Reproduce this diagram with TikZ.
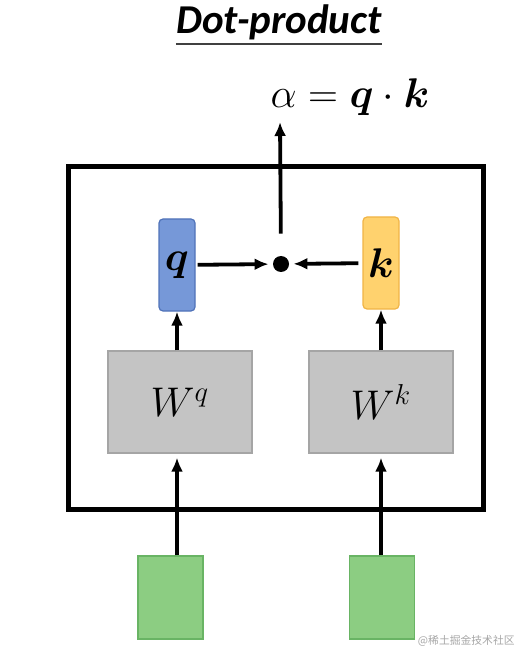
\documentclass[tikz,border=0pt]{standalone}
\usepackage{amsmath,bm}
\usepackage{fontspec}
\newfontfamily\titlefont{Carlito}
\newfontfamily\cjkfont{Noto Sans CJK SC}
\usetikzlibrary{arrows.meta}

\definecolor{qfill}{RGB}{118,152,216}
\definecolor{qline}{RGB}{80,115,185}
\definecolor{kfill}{RGB}{255,210,110}
\definecolor{kline}{RGB}{240,180,70}
\definecolor{wfill}{RGB}{196,196,196}
\definecolor{wline}{RGB}{165,165,165}
\definecolor{xfill}{RGB}{140,205,130}
\definecolor{xline}{RGB}{105,180,100}

\tikzset{
  vecbox/.style = {rounded corners=2pt, minimum width=18pt, minimum height=46pt, inner sep=0pt, line width=0.6pt, font=\fontsize{20}{24}\selectfont},
  wbox/.style = {draw=wline, fill=wfill, minimum width=72pt, minimum height=51pt, inner sep=0pt, line width=0.6pt, font=\fontsize{21}{25}\selectfont},
  inbox/.style = {draw=xline, fill=xfill, minimum width=32.5pt, minimum height=41.5pt, inner sep=0pt, line width=0.6pt},
  arr/.style = {-{Latex[length=7pt,width=6pt]}, line width=1.9pt},
}

\begin{document}
\begin{tikzpicture}[x=0.5pt, y=-0.5pt]
\useasboundingbox (0,0) rectangle (525,657);
\node (title) [anchor=base, inner sep=0pt, at = {(279,34)}] {\titlefont\fontsize{20.5}{24}\selectfont\bfseries\itshape Dot-product};
\draw [line width=1pt, color=black!75] ([yshift=-5pt]title.base west) -- ([yshift=-5pt]title.base east);
\node (alpha) [anchor=base, inner sep=0pt, at = {(350,108)}] {\fontsize{20.5}{24}\selectfont$\alpha = \bm{q}\cdot\bm{k}$};
\coordinate (out) at (280,122);

\draw [color=black, line width=2.5pt] (68.5,166.5) rectangle (483.5,509.5);

\node (q) [vecbox, draw=qline, fill=qfill, at = {(177,265)}] {$\bm{q}$};
\node (k) [vecbox, draw=kline, fill=kfill, at = {(381,263)}] {$\bm{k}$};
\node (dot) [circle, fill=black, minimum size=8pt, inner sep=0pt, at = {(281,264)}] {};
\node (Wq) [wbox, at = {(180,402)}] {$W^q$};
\node (Wk) [wbox, at = {(381,402)}] {$W^k$};
\node (x1) [inbox, at = {(170.5,597.5)}] {};
\node (x2) [inbox, at = {(382,597.5)}] {};

\draw [arr, shorten <=1pt, shorten >=2pt] (q) -- (dot);
\draw [arr, shorten <=2pt, shorten >=2pt] (k) -- (dot);
\draw [arr, shorten <=11pt] (dot.north) -- (out);
\draw [arr] (Wq.north -| q.south) -- (q.south);
\draw [arr] (Wk.north -| k.south) -- (k.south);
\draw [arr, shorten >=2pt] (x1.north -| q.south) -- (Wq.south -| q.south);
\draw [arr, shorten >=2pt] (x2.north -| Wk.south) -- (Wk.south);

\node (mark) [anchor=east, inner sep=0pt, text=black!35, at = {(515,641)}] {\cjkfont\fontsize{5.4}{6.5}\selectfont @稀土掘金技术社区};
\end{tikzpicture}
\end{document}
